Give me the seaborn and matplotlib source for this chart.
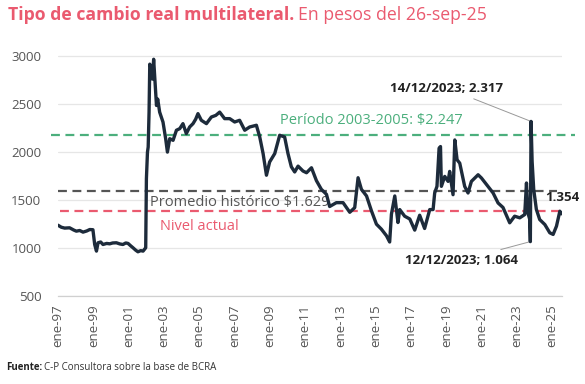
import matplotlib
matplotlib.use("Agg")
import matplotlib.pyplot as plt
import seaborn as sns
import pandas as pd

# ---- data ----
years = [1997.00, 1997.19, 1997.38, 1997.66, 1997.89, 1998.04, 1998.23, 1998.42, 1998.63, 1998.80, 1998.98,
         1999.08, 1999.18, 1999.27, 1999.42, 1999.55, 1999.76, 1999.93, 2000.10, 2000.31, 2000.50, 2000.68,
         2000.84, 2000.97, 2001.12, 2001.25, 2001.40, 2001.53, 2001.69, 2001.82, 2001.97,
         2002.01, 2002.07, 2002.11, 2002.16, 2002.20, 2002.29, 2002.35, 2002.42, 2002.52, 2002.58, 2002.65,
         2002.76, 2002.95, 2003.10, 2003.20, 2003.33, 2003.52, 2003.71, 2003.90, 2004.08, 2004.27, 2004.46,
         2004.65, 2004.80, 2004.93, 2005.12, 2005.41, 2005.69, 2005.94, 2006.16, 2006.44, 2006.73, 2007.01,
         2007.29, 2007.58, 2007.86, 2008.24, 2008.43, 2008.62, 2008.81, 2008.99, 2009.28, 2009.56, 2009.84,
         2010.03, 2010.22, 2010.41, 2010.60, 2010.88, 2011.08, 2011.36, 2011.64, 2011.92, 2012.21, 2012.39,
         2012.77, 2013.15, 2013.53, 2013.81, 2014.00, 2014.19, 2014.48, 2014.76, 2015.04, 2015.32, 2015.61,
         2015.79, 2015.89, 2016.08, 2016.26, 2016.36, 2016.64, 2016.93, 2017.21, 2017.49, 2017.77, 2018.06,
         2018.25, 2018.34, 2018.47, 2018.59, 2018.67, 2018.72, 2018.91, 2019.10, 2019.19, 2019.38, 2019.48,
         2019.61, 2019.76, 2020.04, 2020.23, 2020.42, 2020.80, 2020.99, 2021.36, 2021.65, 2021.93, 2022.21,
         2022.59, 2022.87, 2023.16, 2023.44, 2023.54, 2023.63, 2023.72, 2023.76, 2023.80, 2023.86, 2023.95,
         2024.10, 2024.29, 2024.58, 2024.86, 2025.05, 2025.24, 2025.43, 2025.52]
tcrm = [1235, 1214, 1205, 1208, 1185, 1173, 1180, 1163, 1175, 1190, 1188,
        1034, 965, 1052, 1060, 1034, 1045, 1041, 1050, 1052, 1040, 1034,
        1050, 1045, 1020, 1000, 975, 958, 970, 965, 1000,
        1720, 1997, 2050, 2414, 2914, 2862, 2758, 2965, 2657, 2483, 2550,
        2414, 2310, 2137, 1997, 2137, 2120, 2225, 2242, 2294, 2190, 2259,
        2294, 2340, 2398, 2329, 2294, 2363, 2380, 2414, 2346, 2346, 2311,
        2329, 2225, 2259, 2277, 2155, 1982, 1756, 1894, 1982, 2173, 2155,
        1982, 1844, 1790, 1851, 1800, 1782, 1834, 1700, 1609, 1557, 1430,
        1470, 1470, 1370, 1418, 1730, 1609, 1540, 1384, 1246, 1194, 1125,
        1060, 1350, 1540, 1263, 1398, 1329, 1300, 1184, 1339, 1201, 1398,
        1398, 1571, 1640, 2038, 2055, 1640, 1744, 1692, 1796, 1553, 2124,
        1917, 1882, 1640, 1571, 1692, 1761, 1727, 1640, 1571, 1467, 1420,
        1260, 1329, 1312, 1346, 1675, 1357, 1300, 1064, 2317, 1900, 1609,
        1400, 1294, 1242, 1156, 1139, 1225, 1381, 1354]

tick_years = [1997, 1999, 2001, 2003, 2005, 2007, 2009, 2011, 2013, 2015, 2017, 2019, 2021, 2023, 2025]
tick_labels = ["ene-97", "ene-99", "ene-01", "ene-03", "ene-05", "ene-07", "ene-09", "ene-11",
               "ene-13", "ene-15", "ene-17", "ene-19", "ene-21", "ene-23", "ene-25"]
y_ticks = [500, 1000, 1500, 2000, 2500, 3000]

ref_periodo = 2180     # drawn level of "Período 2003-2005" line
ref_promedio = 1590    # drawn level of "Promedio histórico" line
ref_actual = 1380      # drawn level of "Nivel actual" line

low_point = (2023.76, 1064)
high_point = (2023.80, 2317)

df = pd.DataFrame({"fecha": years, "tcrm": tcrm})

# ---- style ----
sns.set_theme(style="white")
plt.rcParams["font.family"] = ["Open Sans", "DejaVu Sans"]

NAVY = "#1d2b3b"
RED = "#ea5a6f"
GREEN = "#4caf7d"
GRAY_TXT = "#555555"

fig = plt.figure(figsize=(5.85, 3.84), dpi=100)
ax = fig.add_axes([0.0991, 0.2299, 0.8615, 0.640])

sns.lineplot(data=df, x="fecha", y="tcrm", ax=ax, color=NAVY, linewidth=2.4, zorder=5)

ax.set_xlim(1997.0, 2025.55)
ax.set_ylim(500, 3062)
ax.set_yticks(y_ticks)
ax.set_yticklabels([str(v) for v in y_ticks])
ax.set_xticks(tick_years)
ax.set_xticklabels(tick_labels, rotation=90)
ax.set_xlabel("")
ax.set_ylabel("")

for v in y_ticks:
    ax.axhline(v, color="#e6e6e6", lw=0.9, zorder=0)

for s in ["top", "right", "left"]:
    ax.spines[s].set_visible(False)
ax.spines["bottom"].set_color("#d0d0d0")
ax.spines["bottom"].set_linewidth(0.9)
ax.tick_params(axis="x", colors="#d0d0d0", length=4, width=0.9, labelcolor=GRAY_TXT, labelsize=9.5, pad=2)
ax.tick_params(axis="y", length=0, labelcolor=GRAY_TXT, labelsize=9.5, pad=12)

# reference lines
ax.axhline(ref_periodo, xmin=-0.013, xmax=1.026, color=GREEN, lw=1.6, ls=(0, (4, 2.5)), clip_on=False, zorder=3)
ax.axhline(ref_promedio, xmin=0.0, xmax=0.99, color="#555555", lw=1.6, ls=(0, (4, 2.5)), clip_on=False, zorder=3)
ax.axhline(ref_actual, xmin=0.004, xmax=1.005, color=RED, lw=1.6, ls=(0, (4, 2.5)), clip_on=False, zorder=3)

ax.text(2009.6, 2330, "Período 2003-2005: $2.247", color=GREEN, fontsize=10.5, ha="left", va="center")
ax.text(2002.2, 1470, "Promedio histórico $1.629", color="#555555", fontsize=10.5, ha="left", va="center")
ax.text(2002.8, 1222, "Nivel actual", color=RED, fontsize=10.5, ha="left", va="center")

# annotations
ax.annotate("14/12/2023; 2.317", xy=high_point, xytext=(2019.0, 2665),
            fontsize=9.5, fontweight="bold", color="#222222", ha="center", va="center",
            arrowprops=dict(arrowstyle="-", color="#999999", lw=0.7, shrinkA=2, shrinkB=0))
ax.annotate("12/12/2023; 1.064", xy=low_point, xytext=(2019.87, 872),
            fontsize=9.5, fontweight="bold", color="#222222", ha="center", va="center",
            arrowprops=dict(arrowstyle="-", color="#999999", lw=0.7, shrinkA=2, shrinkB=0))
ax.text(2025.6, 1528, "1.354", fontsize=9.5, fontweight="bold", color="#222222", ha="center", va="center")

# title
t1 = fig.text(0.014, 0.962, "Tipo de cambio real multilateral.", fontsize=12.7, fontweight="bold",
              color=RED, ha="left", va="center")
fig.canvas.draw()
bb = t1.get_window_extent()
fig.text((bb.x1 + 4) / fig.bbox.width, 0.962, "En pesos del 26-sep-25", fontsize=12.7,
         color=RED, ha="left", va="center")

s1 = fig.text(0.010, 0.042, "Fuente:", fontsize=7, fontweight="bold", color="#222222", ha="left", va="center")
fig.canvas.draw()
bb2 = s1.get_window_extent()
fig.text((bb2.x1 + 2) / fig.bbox.width, 0.042, "C-P Consultora sobre la base de BCRA", fontsize=7,
         color="#333333", ha="left", va="center")

fig.savefig("out.png", dpi=100, facecolor="white")
